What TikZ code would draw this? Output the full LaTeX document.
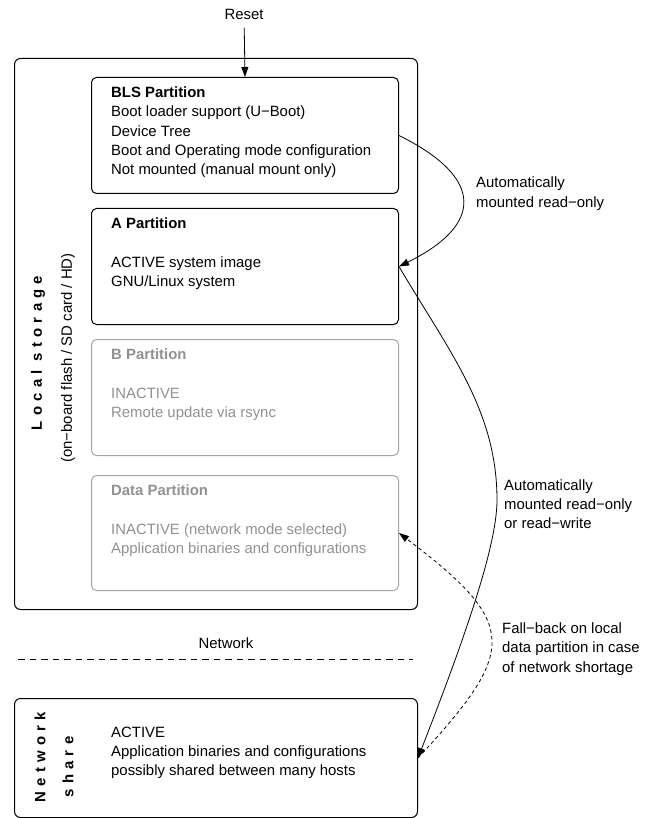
\documentclass[tikz,border=0pt]{standalone}
\usepackage{fontspec}
\setmainfont{Liberation Sans}
\usetikzlibrary{arrows.meta}

\definecolor{inactivetext}{RGB}{145,145,145}
\definecolor{inactiveline}{RGB}{165,165,165}

\tikzset{
  partbox/.style={draw, line width=1pt, rounded corners=5pt, inner sep=0pt, anchor=north west, minimum width=307pt, minimum height=116pt},
  holderbox/.style={draw, line width=1pt, rounded corners=6pt, inner sep=0pt, anchor=north west, minimum width=403pt},
  parttext/.style={anchor=north west, inner sep=0pt, align=left, font=\fontsize{14.9}{19.3}\selectfont},
  sidetext/.style={anchor=west, inner sep=0pt, align=left, font=\fontsize{14.9}{19.3}\selectfont},
  spacedlabel/.style={rotate=90, inner sep=0pt, font=\fontsize{14.9}{17}\selectfont\bfseries\addfontfeature{LetterSpace=35}},
  tiparrow/.style={line width=0.8pt, -{Triangle[length=10pt,width=7pt]}},
}

\begin{document}
\begin{tikzpicture}[x=1pt,y=1pt,yscale=-1,xscale=1]
\useasboundingbox (0,0) rectangle (651,818);

%Shape: Local storage holder
\draw (14,58) node (local) [holderbox, minimum height=551pt] {};
%Shape: Partitions
\draw (91,77) node (bls) [partbox] {};
\draw (91,208) node (apart) [partbox] {};
\draw (91,339) node (bpart) [partbox, draw=inactiveline] {};
\draw (91,475) node (datapart) [partbox, draw=inactiveline, minimum height=115pt] {};
%Shape: Network share holder
\draw (14,698) node (netshare) [holderbox, minimum height=119pt] {};

% Text Node
\draw (bls.north west) ++(20,9.5) node (blstext) [parttext] {\textbf{BLS Partition}\\Boot loader support (U−Boot)\\Device Tree\\Boot and Operating mode configuration\\Not mounted (manual mount only)};
% Text Node
\draw (apart.north west) ++(20,9.5) node (atext) [parttext] {\textbf{A Partition}\\[19.3pt]ACTIVE system image\\GNU/Linux system};
% Text Node
\draw (bpart.north west) ++(20,9.5) node (btext) [parttext, text=inactivetext] {\textbf{B Partition}\\[19.3pt]INACTIVE\\Remote update via rsync};
% Text Node
\draw (datapart.north west) ++(20,9.5) node (datatext) [parttext, text=inactivetext] {\textbf{Data Partition}\\[19.3pt]INACTIVE (network mode selected)\\Application binaries and configurations};
% Text Node
\draw (netshare.north west) ++(97,28.5) node (nettext) [parttext] {ACTIVE\\Application binaries and configurations\\possibly shared between many hosts};

% Text Node
\draw (38,353) node (lsname) [spacedlabel] {Local storage};
% Text Node
\draw (68,358) node (lsmedia) [rotate=90, inner sep=0pt, font=\fontsize{14.9}{17}\selectfont] {(on−board flash / SD card / HD)};
% Text Node
\draw (40,757) node (nsname) [spacedlabel] {Network};
% Text Node
\draw (68,767) node (nsshare) [spacedlabel] {share};

% Text Node
\draw (244,14) node (reset) [font=\fontsize{14.9}{17}\selectfont] {Reset};
\draw [tiparrow, shorten <=5pt] (reset) -- (bls.north);

%Straight Lines: network border
\coordinate (netleft) at (18,659);
\coordinate (netright) at (413,659);
\draw [line width=0.8pt, dash pattern={on 6.5pt off 5pt}] (netleft) -- (netright);
% Text Node
\draw (226,643) node (netlabel) [font=\fontsize{14.9}{17}\selectfont] {Network};

%Curve: BLS to A
\draw [tiparrow] (bls.east) .. controls +(85,42) and +(85,-42) .. (apart.east);
% Text Node
\draw (476,193.5) node (rolabel) [sidetext] {Automatically\\mounted read−only};

%Curve: A to network share
\coordinate (mountbend) at (497,500);
\draw [tiparrow] (apart.east) .. controls +(50,85) and +(0,-90) .. (mountbend) .. controls +(0,50) and +(40,-103) .. (netshare.east);
% Text Node
\draw (504,504) node (rwlabel) [sidetext] {Automatically\\mounted read−only\\or read−write};

%Curve: fall-back to data partition
\draw [tiparrow, dash pattern={on 3.5pt off 3pt}] (netshare.east) .. controls +(100,-108) and +(120,91) .. (datapart.east);
% Text Node
\draw (502,649) node (fblabel) [sidetext] {Fall−back on local\\data partition in case\\of network shortage};

\end{tikzpicture}
\end{document}
